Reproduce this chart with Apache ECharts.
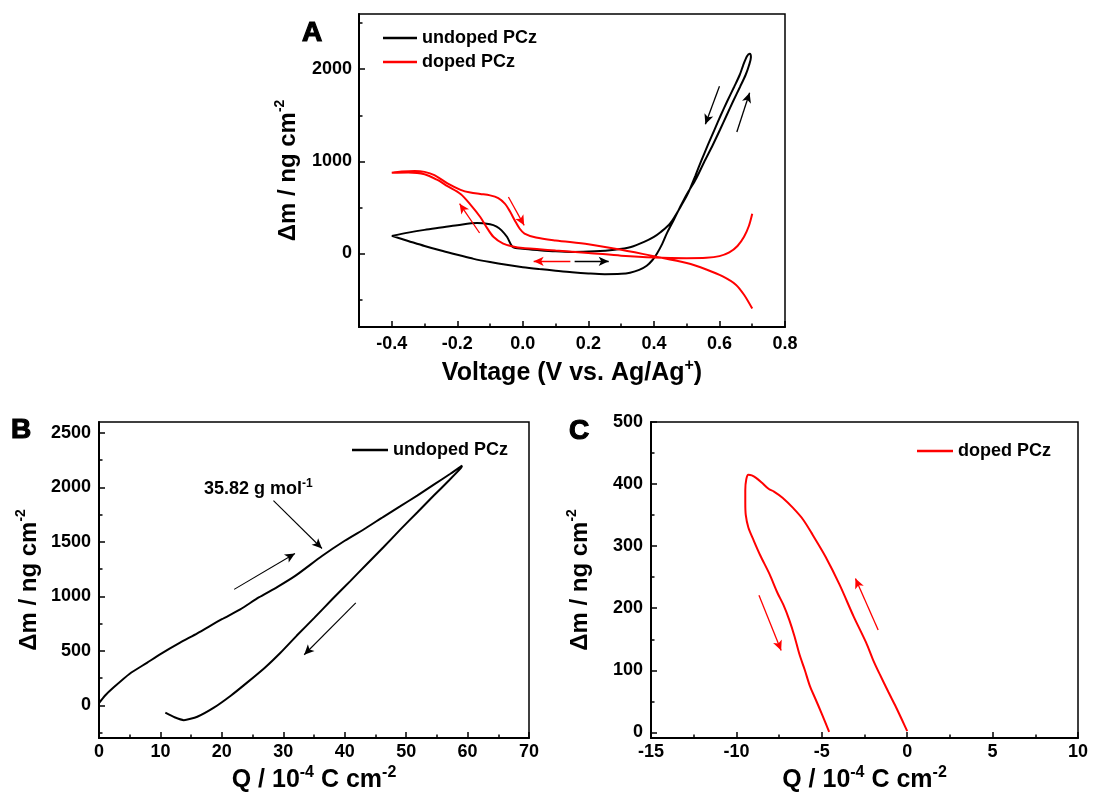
<!DOCTYPE html>
<html>
<head>
<meta charset="utf-8">
<script src="https://cdn.jsdelivr.net/npm/echarts@6/dist/echarts.min.js"></script>
<style>html,body{margin:0;padding:0;background:#fff}#c{width:1093px;height:798px}</style>
</head>
<body>
<div id="c"></div>
<script>
// ---------- Panel A : mass change vs voltage ----------
const aUndopedV = [-0.4,-0.35,-0.3,-0.25,-0.2,-0.15,-0.1,-0.05,0.0,0.05,0.1,0.15,0.2,0.25,0.3,0.327,0.355,0.378,0.395,0.409,0.425,0.439,0.46,0.48,0.5,0.526,0.553,0.58,0.602,0.622,0.642,0.663,0.68,0.69,0.696,0.695,0.692,0.684,0.672,0.662,0.645,0.624,0.604,0.585,0.565,0.545,0.526,0.505,0.49,0.449,0.42,0.4,0.37,0.33,0.28,0.22,0.15,0.1,0.05,0.0,-0.03,-0.048,-0.065,-0.08,-0.1,-0.14,-0.2,-0.25,-0.3,-0.35,-0.4];
const aUndopedM = [190,135,80,30,-15,-60,-95,-125,-150,-170,-188,-205,-218,-226,-222,-210,-180,-135,-75,-4,100,214,360,503,640,793,990,1180,1345,1500,1655,1810,1940,2040,2130,2160,2168,2140,2040,1940,1810,1655,1500,1345,1180,1010,840,660,560,322,230,180,125,70,40,22,15,22,35,51,68,177,250,290,315,329,305,280,255,225,190];
const aDopedV = [0.7,0.69,0.675,0.655,0.63,0.6,0.56,0.5,0.4,0.3,0.2,0.1,0.05,0.0,-0.03,-0.06,-0.09,-0.11,-0.13,-0.16,-0.19,-0.23,-0.262,-0.3,-0.35,-0.4,-0.37,-0.33,-0.3,-0.27,-0.23,-0.19,-0.16,-0.13,-0.1,-0.075,-0.055,-0.04,-0.025,-0.01,0.005,0.04,0.1,0.2,0.3,0.4,0.5,0.56,0.61,0.65,0.675,0.7];
const aDopedM = [430,300,180,80,10,-30,-48,-52,-45,-25,5,30,45,58,75,105,180,280,395,530,645,730,800,860,878,875,888,895,885,850,760,690,660,645,630,600,540,460,360,270,215,172,140,100,40,-30,-105,-175,-250,-340,-450,-600];
const aArrowsBlack = [[[0.6,1815],[0.557,1402]],[[0.653,1319],[0.692,1745]],[[0.158,-87],[0.262,-87]]];
const aArrowsRed = [[[-0.044,612],[0.004,304]],[[-0.132,221],[-0.193,540]],[[0.145,-87],[0.033,-87]]];
const aXLabels = [-0.4,-0.2,0,0.2,0.4,0.6,0.8];
const aXMinor = [-0.3,-0.1,0.1,0.3,0.5,0.7];
const aYLabels = [0,1000,2000];
const aYMinor = [-500,500,1500,2500];

// ---------- Panel B : undoped PCz, mass vs charge ----------
const bQ = [0,1,2.4,5,7.8,10,13.2,16,20,23,26,29,32,36.3,40,43.4,46.3,49,51.8,54.5,57.2,59,59.1,58.9,57,54.5,51.8,49,46.3,43.5,40.9,38,35,32.2,29.5,27,24.1,21.5,18.7,16,13.8,12.3,10.8];
const bM = [20,90,165,290,390,470,575,660,790,880,990,1085,1190,1370,1510,1625,1730,1825,1925,2025,2125,2195,2200,2176,2065,1925,1770,1610,1450,1290,1140,975,800,640,480,345,208,90,-22,-105,-136,-110,-68];
const bArrows = [[[22.0,1064],[31.9,1393]],[[41.8,941],[33.4,464]]];
const bPointer = [[28.4,1878],[36.3,1439]];
const bNote = [17.0,1981];
const bXLabels = [0,10,20,30,40,50,60,70];
const bXMinor = [5,15,25,35,45,55,65];
const bYLabels = [0,500,1000,1500,2000,2500];
const bYMinor = [-250,250,750,1250,1750,2250];

// ---------- Panel C : doped PCz, mass vs charge ----------
const cQ = [0,-0.3,-0.66,-1.1,-1.63,-2.0,-2.41,-3.14,-3.96,-4.78,-5.53,-6.1,-6.7,-7.3,-7.8,-8.1,-8.5,-8.85,-9.1,-9.3,-9.42,-9.48,-9.48,-9.45,-9.3,-9.0,-8.6,-8.06,-7.6,-7.24,-6.9,-6.6,-6.3,-6.0,-5.7,-5.39,-5.0,-4.57];
const cM = [2,20,41,65,95,117,145,187,238,283,318,343,362,378,388,392,402,410,414,415,408,390,370,350,330,310,285,255,225,205,181,155,125,101,75,55,30,1];
const cArrows = [[[-1.70,165],[-3.03,248]],[[-8.68,221],[-7.38,132]]];
const cXLabels = [-15,-10,-5,0,5,10];
const cXMinor = [-12.5,-7.5,-2.5,2.5,7.5];
const cYLabels = [0,100,200,300,400,500];
const cYMinor = [50,150,250,350,450];

const FONT = '"Liberation Sans", Arial, Helvetica, sans-serif';
const zip = (a, b) => a.map((v, i) => [v, b[i]]);
const supRich = (fs) => ({sup: {fontFamily: FONT, fontWeight: 'bold', fontSize: fs, color: '#000', verticalAlign: 'top', lineHeight: fs}});

function nameStyle(fs, supFs) {
  return {fontFamily: FONT, fontSize: fs, fontWeight: 'bold', color: '#000', lineHeight: 30, rich: supRich(supFs)};
}
function labelStyle(margin, values, fmt) {
  return {show: true, customValues: values, margin: margin, formatter: fmt, color: '#000', fontFamily: FONT, fontSize: 18, fontWeight: 'bold', lineHeight: 18};
}
function mainAxis(dim, grid, min, max, labels, fmt, margin, name, nameGap) {
  return {
    type: 'value', gridIndex: grid, min: min, max: max,
    position: dim === 'x' ? 'bottom' : 'left',
    axisLine: {show: true, onZero: false, lineStyle: {color: '#000', width: 2}},
    axisTick: {show: true, inside: true, length: 6, lineStyle: {color: '#000', width: 1.5}, customValues: labels},
    axisLabel: labelStyle(margin, labels, fmt),
    splitLine: {show: false},
    name: name, nameLocation: 'middle', nameGap: nameGap,
    nameTextStyle: nameStyle(dim === 'x' ? 25 : 24, dim === 'x' ? 16 : 14)
  };
}
function minorAxis(dim, grid, min, max, ticks) {
  return {
    type: 'value', gridIndex: grid, min: min, max: max,
    position: dim === 'x' ? 'bottom' : 'left',
    axisLine: {show: false, onZero: false},
    axisTick: {show: true, inside: true, length: 3.5, lineStyle: {color: '#000', width: 1.5}, customValues: ticks},
    axisLabel: {show: false}, splitLine: {show: false}
  };
}
function arrows(list, color, width) {
  return {
    silent: true, animation: false, symbol: ['none', 'arrow'], symbolSize: [7, 10],
    lineStyle: {color: color, width: width, type: 'solid'}, label: {show: false},
    emphasis: {disabled: true},
    data: list.map(p => [{coord: p[0]}, {coord: p[1]}])
  };
}

const f1 = v => Number(v).toFixed(1);
const f0 = v => String(Math.round(v));
const letter = (t, x, y) => ({type: 'text', x: x, y: y, style: {text: t, fontFamily: FONT, fontSize: 28, fontWeight: 'bold', fill: '#000', stroke: '#000', lineWidth: 1.2, align: 'center', verticalAlign: 'middle'}});

const option = {
  animation: false,
  backgroundColor: '#fff',
  grid: [
    {left: 359, top: 14, width: 426, height: 313, show: true, borderColor: '#000', borderWidth: 1.5},
    {left: 99, top: 422, width: 430, height: 316, show: true, borderColor: '#000', borderWidth: 1.5},
    {left: 651, top: 422, width: 427, height: 316, show: true, borderColor: '#000', borderWidth: 1.5}
  ],
  xAxis: [
    mainAxis('x', 0, -0.5, 0.8, aXLabels, f1, 8, 'Voltage (V vs. Ag/Ag{sup|+})', 31),
    mainAxis('x', 1, 0, 70, bXLabels, f0, 5, 'Q / 10{sup|-4} C cm{sup|-2}', 27),
    mainAxis('x', 2, -15, 10, cXLabels, f0, 5, 'Q / 10{sup|-4} C cm{sup|-2}', 27),
    minorAxis('x', 0, -0.5, 0.8, aXMinor),
    minorAxis('x', 1, 0, 70, bXMinor),
    minorAxis('x', 2, -15, 10, cXMinor)
  ],
  yAxis: [
    mainAxis('y', 0, -800, 2600, aYLabels, f0, 7, 'Δm / ng cm{sup|-2}', 56),
    mainAxis('y', 1, -300, 2600, bYLabels, f0, 8, 'Δm / ng cm{sup|-2}', 55),
    mainAxis('y', 2, -9, 500, cYLabels, f0, 8, 'Δm / ng cm{sup|-2}', 56),
    minorAxis('y', 0, -800, 2600, aYMinor),
    minorAxis('y', 1, -300, 2600, bYMinor),
    minorAxis('y', 2, -9, 500, cYMinor)
  ],
  legend: [
    {data: ['undoped PCz', 'doped PCz'], orient: 'vertical', left: 383, top: 29, padding: 0, itemGap: 6,
     itemWidth: 34, itemHeight: 2.5, icon: 'rect', selectedMode: false,
     textStyle: {fontFamily: FONT, fontSize: 18, fontWeight: 'bold', color: '#000', lineHeight: 18}},
    {data: ['undoped PCz'], left: 352, top: 441, padding: 0, itemWidth: 36, itemHeight: 2.5, icon: 'rect', selectedMode: false,
     textStyle: {fontFamily: FONT, fontSize: 18, fontWeight: 'bold', color: '#000', lineHeight: 18}},
    {data: ['doped PCz'], left: 917, top: 442, padding: 0, itemWidth: 36, itemHeight: 2.5, icon: 'rect', selectedMode: false,
     textStyle: {fontFamily: FONT, fontSize: 18, fontWeight: 'bold', color: '#000', lineHeight: 18}}
  ],
  graphic: [letter('A', 312, 33), letter('B', 21, 430), letter('C', 579, 431)],
  series: [
    {name: 'undoped PCz', type: 'line', xAxisIndex: 0, yAxisIndex: 0, data: zip(aUndopedV, aUndopedM),
     showSymbol: false, smooth: 0.3, lineStyle: {color: '#000', width: 2}, itemStyle: {color: '#000'},
     markLine: arrows(aArrowsBlack, '#000', 1.3)},
    {name: 'doped PCz', type: 'line', xAxisIndex: 0, yAxisIndex: 0, data: zip(aDopedV, aDopedM),
     showSymbol: false, smooth: 0.3, lineStyle: {color: '#ff0000', width: 2}, itemStyle: {color: '#ff0000'},
     markLine: arrows(aArrowsRed, '#ff0000', 1.3)},
    {name: 'undoped PCz', type: 'line', xAxisIndex: 1, yAxisIndex: 1, data: zip(bQ, bM),
     showSymbol: false, smooth: 0.2, lineStyle: {color: '#000', width: 2}, itemStyle: {color: '#000'},
     markLine: arrows(bArrows.concat([bPointer]), '#000', 1.1),
     markPoint: {silent: true, animation: false, symbol: 'circle', symbolSize: 1, itemStyle: {color: 'rgba(0,0,0,0)'},
       label: {show: true, position: 'right', distance: 0, formatter: '35.82 g mol{sup|-1}', color: '#000',
         fontFamily: FONT, fontSize: 18, fontWeight: 'bold', lineHeight: 24, rich: supRich(12)},
       data: [{coord: bNote}]}},
    {name: 'doped PCz', type: 'line', xAxisIndex: 2, yAxisIndex: 2, data: zip(cQ, cM),
     showSymbol: false, smooth: 0.3, lineStyle: {color: '#ff0000', width: 2}, itemStyle: {color: '#ff0000'},
     markLine: arrows(cArrows, '#ff0000', 1.3)}
  ]
};
const chart = echarts.init(document.getElementById('c'), null, {renderer: 'canvas'});
chart.setOption(option);
</script>
</body>
</html>
